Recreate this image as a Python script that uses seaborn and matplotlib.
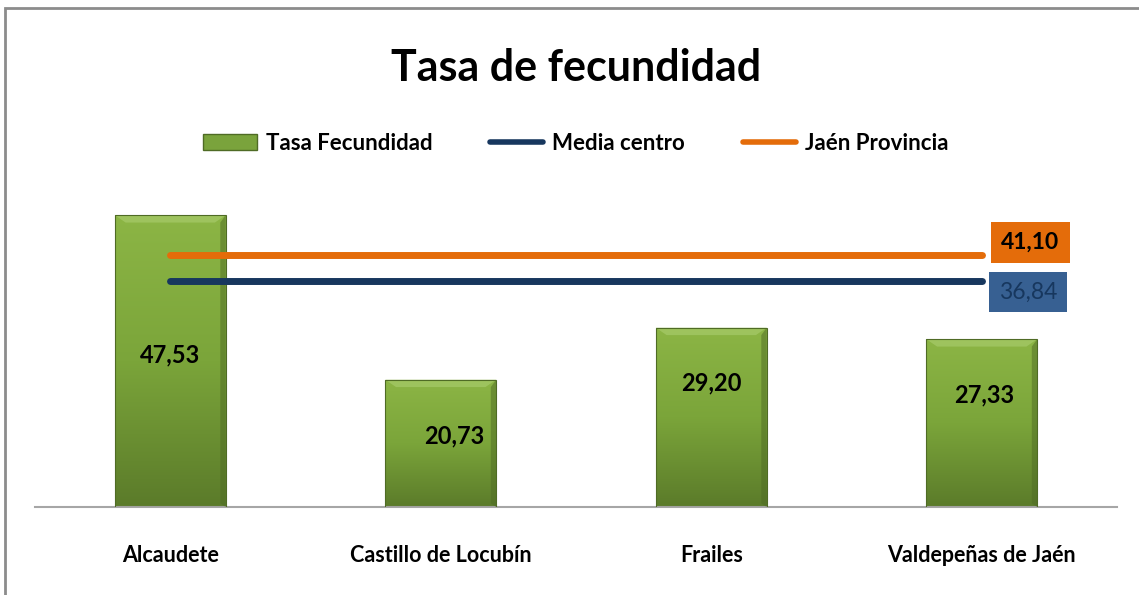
import numpy as np
import pandas as pd
import seaborn as sns
import matplotlib.pyplot as plt
import matplotlib.patches as mpatches
from matplotlib.lines import Line2D
from matplotlib.colors import LinearSegmentedColormap

municipios = ["Alcaudete", "Castillo de Locubín", "Frailes", "Valdepeñas de Jaén"]
tasa = [47.53, 20.73, 29.20, 27.33]
media_centro = 36.84
jaen_provincia = 41.10

# manual positions of the value labels (Excel moved them by hand)
label_y = [24.8, 11.6, 20.2, 18.2]
label_dx = [0.0, 0.05, 0.0, 0.01]


def fmt(v):
    return f"{v:.2f}".replace(".", ",")


sns.set_theme(style="white")
plt.rcParams['font.family'] = ['Lato', 'DejaVu Sans']
plt.rcParams['text.color'] = 'black'
plt.rcParams['xtick.color'] = 'black'

df = pd.DataFrame({"municipio": municipios, "tasa": tasa})

fig = plt.figure(figsize=(11.39, 5.95), dpi=100)
ax = fig.add_axes([35 / 1139, 1 - 507 / 595, 1082 / 1139, 307 / 595])

sns.barplot(data=df, x="municipio", y="tasa", color="#77a03a", width=0.41,
            edgecolor="#4f6b25", linewidth=0.8, ax=ax, zorder=2)

# vertical green gradient on each bar, plus a light bevel on top
cmap = LinearSegmentedColormap.from_list("verde", ["#5b7b2a", "#7ba53a", "#8cb545"])
grad = np.linspace(0, 1, 256).reshape(-1, 1)
bev = 1.2  # bevel depth in data units
for p in ax.patches:
    x0, y0 = p.get_x(), p.get_y()
    w, h = p.get_width(), p.get_height()
    im = ax.imshow(grad, cmap=cmap, aspect="auto", origin="lower",
                   extent=[x0, x0 + w, y0, y0 + h], zorder=2.5)
    im.set_clip_path(p)
    p.set_facecolor("none")
    p.set_zorder(3)
    top = y0 + h
    ax.add_patch(mpatches.Polygon(
        [(x0, top), (x0 + w, top), (x0 + w - 0.04, top - bev), (x0 + 0.04, top - bev)],
        closed=True, fc="#a3c865", ec="none", alpha=0.8, zorder=2.7))
    ax.add_patch(mpatches.Polygon(
        [(x0 + w, top), (x0 + w, y0), (x0 + w - 0.02, y0 + 0.6), (x0 + w - 0.02, top - bev)],
        closed=True, fc="#4f6b25", ec="none", alpha=0.5, zorder=2.7))

xs = np.arange(len(municipios))
ax.plot([xs[0], xs[-1]], [jaen_provincia] * 2, color="#e46c0a", lw=5,
        solid_capstyle="round", zorder=4)
ax.plot([xs[0], xs[-1]], [media_centro] * 2, color="#17375e", lw=5,
        solid_capstyle="round", zorder=4)

for i, v in enumerate(tasa):
    ax.text(xs[i] + label_dx[i], label_y[i], fmt(v), ha="center", va="center",
            fontsize=17, fontweight="bold", color="black", zorder=5)

ax.text(xs[-1] + 0.18, jaen_provincia + 2.0, fmt(jaen_provincia), ha="center",
        va="center", fontsize=16.5, fontweight="bold", color="black", zorder=5,
        bbox=dict(boxstyle="square,pad=0.45", fc="#e46c0a", ec="none"))
ax.text(xs[-1] + 0.17, media_centro - 1.8, fmt(media_centro), ha="center",
        va="center", fontsize=16.5, color="#17375e", zorder=5,
        bbox=dict(boxstyle="square,pad=0.42", fc="#376092", ec="none"))

ax.set_ylim(0, 50)
ax.set_xlim(-0.5, len(municipios) - 0.5)
ax.set_xlabel("")
ax.set_ylabel("")
ax.set_yticks([])
for s in ["top", "right", "left"]:
    ax.spines[s].set_visible(False)
ax.spines["bottom"].set_color("#a6a6a6")
ax.spines["bottom"].set_linewidth(1.5)
ax.tick_params(axis="x", length=0, pad=27, labelsize=15.5)
for t in ax.get_xticklabels():
    t.set_fontweight("bold")
ax.set_facecolor("none")

fig.text(576 / 1139, 1 - 68 / 595, "Tasa de fecundidad", ha="center",
         va="center", fontsize=31, fontweight="bold")

handles = [
    mpatches.Patch(facecolor="#7aa33c", edgecolor="#4f6b25", label="Tasa Fecundidad"),
    Line2D([0], [0], color="#17375e", lw=4, label="Media centro"),
    Line2D([0], [0], color="#e46c0a", lw=4, label="Jaén Provincia"),
]
leg = fig.legend(handles=handles, loc="center", bbox_to_anchor=(576 / 1139, 1 - 143 / 595),
                 ncol=3, frameon=False, handlelength=2.4, handletextpad=0.4,
                 columnspacing=2.6, prop={"size": 16, "weight": "bold"})

# outer chart frame
fig.patches.append(mpatches.Rectangle((5 / 1139, -0.05), 1.1, 1 - 8 / 595 + 0.05,
                                      transform=fig.transFigure, fill=False,
                                      ec="#8c8c8c", lw=2))

fig.savefig("out.png", dpi=100)
